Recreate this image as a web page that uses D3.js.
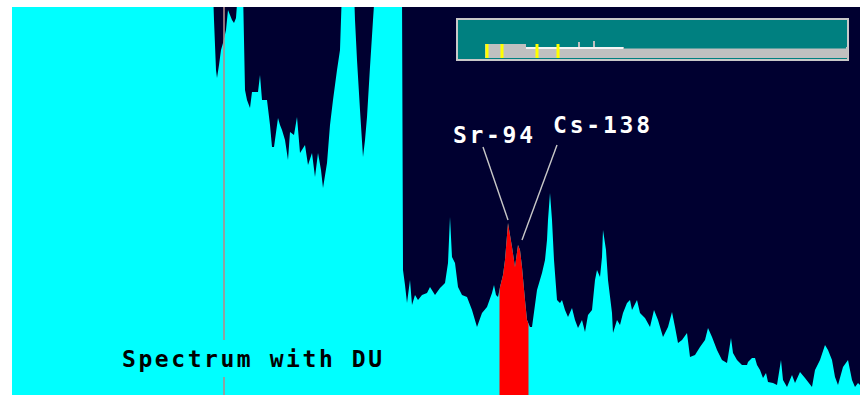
<!DOCTYPE html>
<html>
<head>
<meta charset="utf-8">
<script src="https://cdn.jsdelivr.net/npm/d3@7"></script>
<style>
  html, body { margin: 0; padding: 0; background: #fff; }
  svg { display: block; }
</style>
</head>
<body>
<svg id="chart" width="860" height="395"></svg>
<script>
// spectrum: channel -> counts (values above the top are clipped)
const channels = [0, 201, 202, 204, 205, 207, 209, 211, 214, 216, 218, 220, 222, 224, 226, 231, 232, 233, 235, 238,
  240, 246, 248, 250, 255, 258, 260, 262, 266, 268, 270, 273, 276, 278, 282, 285, 288, 293, 296, 300,
  303, 306, 309, 311, 315, 318, 321, 325, 328, 330, 342, 343, 345, 348, 351, 353, 355, 358, 361, 363,
  390, 391, 393, 395, 398, 400, 403, 406, 410, 415, 418, 423, 428, 433, 436, 438, 440, 443, 446, 450,
  455, 460, 465, 470, 475, 480, 482, 484, 486, 488, 491, 493, 496, 498, 500, 503, 506, 508, 510, 513,
  515, 518, 520, 525, 530, 533, 535, 536, 538, 540, 542, 545, 548, 550, 553, 556, 560, 563, 566, 570,
  573, 576, 580, 583, 585, 588, 590, 591, 594, 596, 600, 601, 605, 608, 611, 615, 618, 620, 625, 628,
  633, 638, 642, 646, 651, 656, 660, 663, 666, 670, 675, 678, 683, 688, 693, 696, 700, 705, 710, 715,
  716, 719, 721, 725, 730, 735, 736, 740, 743, 745, 748, 751, 754, 756, 761, 765, 769, 771, 775, 780,
  783, 788, 793, 800, 803, 808, 813, 816, 820, 823, 826, 831, 836, 840, 843, 846, 848];
const counts = [4050, 4050, 3750, 3250, 3170, 3300, 3450, 3520, 3650, 3850, 3800, 3750, 3720, 3770, 4050, 4050, 3550, 3050, 2950, 2870,
  3030, 3030, 3200, 2950, 2950, 2700, 2480, 2480, 2770, 2700, 2650, 2550, 2350, 2630, 2600, 2780, 2420, 2500, 2300, 2420,
  2180, 2420, 2250, 2070, 2320, 2700, 2950, 3250, 3450, 4050, 4050, 3750, 3350, 2850, 2380, 2550, 2780, 3280, 3750, 4050,
  4050, 1250, 1100, 920, 1150, 900, 1000, 950, 1000, 1020, 1080, 1000, 1070, 1120, 1320, 1780, 1380, 1320, 1080, 1000,
  980, 850, 680, 820, 880, 1020, 1100, 1000, 980, 1080, 1200, 1350, 1720, 1600, 1480, 1280, 1500, 1450, 1280, 950,
  750, 680, 680, 1050, 1220, 1350, 1550, 1750, 2020, 1750, 1350, 950, 920, 950, 850, 780, 870, 750, 670, 750,
  630, 800, 850, 1150, 1250, 1180, 1380, 1650, 1450, 1150, 820, 620, 750, 700, 820, 920, 950, 850, 950, 820,
  770, 680, 850, 750, 580, 680, 830, 680, 520, 550, 620, 380, 400, 480, 550, 670, 580, 450, 350, 320,
  380, 570, 420, 350, 300, 300, 330, 370, 370, 300, 250, 170, 220, 130, 120, 100, 350, 150, 80, 200,
  120, 230, 170, 80, 250, 350, 500, 450, 350, 180, 100, 280, 350, 150, 80, 120, 100];

const channelRange = [0, 848];
const countMax = 3880;

// region of interest (red) and cursor
const roi = [487.5, 516.5];
const cursorChannel = 212;

// peak labels
const peakNames = ["Sr-94", "Cs-138"];
const peakChannels = [496, 506];

const caption = "Spectrum with DU";

// overview strip at the top right: whole spectrum, compressed
const overviewChannels = [0, 27, 68, 120, 122, 135, 137, 166, 388, 390];
const overviewCounts = [0, 14, 11, 16, 11, 17, 11, 9.5, 11, 11];
const overviewMarkers = [29, 44, 79, 100];
const overviewWindow = [68, 165];

const svg = d3.select('#chart');
const plotL = 12, plotR = 860, plotT = 7, plotB = 395;

const x = d3.scaleLinear().domain(channelRange).range([plotL, plotR]);
const y = d3.scaleLinear().domain([0, countMax]).range([plotB, plotT]);

svg.append('defs').call(defs => {
  defs.append('clipPath').attr('id', 'plot')
    .append('rect')
    .attr('x', plotL).attr('y', plotT)
    .attr('width', plotR - plotL).attr('height', plotB - plotT);
  defs.append('clipPath').attr('id', 'roi')
    .append('rect')
    .attr('x', x(roi[0])).attr('y', plotT)
    .attr('width', x(roi[1]) - x(roi[0])).attr('height', plotB - plotT);
});

const points = channels.map((c, i) => [c, counts[i]]);
const area = d3.area()
  .x(d => x(d[0]))
  .y0(plotB)
  .y1(d => y(d[1]));

const plot = svg.append('g').attr('clip-path', 'url(#plot)');

plot.append('rect')
  .attr('x', plotL).attr('y', plotT)
  .attr('width', plotR - plotL).attr('height', plotB - plotT)
  .attr('fill', '#000030');

plot.append('path')
  .datum(points)
  .attr('d', area)
  .attr('fill', '#00ffff');

plot.append('g').attr('clip-path', 'url(#roi)')
  .append('path')
  .datum(points)
  .attr('d', area)
  .attr('fill', '#ff0000');

// cursor line, broken around the caption
const cx = x(cursorChannel);
[[plotT, 340], [377, plotB]].forEach(seg => {
  plot.append('line')
    .attr('x1', cx).attr('x2', cx)
    .attr('y1', seg[0]).attr('y2', seg[1])
    .attr('stroke', '#b08c8c')
    .attr('stroke-width', 1.6);
});

plot.append('text')
  .attr('x', 122).attr('y', 367)
  .attr('textLength', 260)
  .attr('lengthAdjust', 'spacing')
  .attr('font-family', 'DejaVu Sans Mono, monospace')
  .attr('font-weight', 'bold')
  .attr('font-size', 23)
  .attr('fill', '#000')
  .text(caption);

// peak labels with leader lines
const labelPos = [
  {tx: 453, ty: 143, len: 80, lx: 483, ly: 147, dx: 0, dy: -3},
  {tx: 553, ty: 133, len: 97, lx: 557, ly: 145, dx: 4, dy: -5}
];
peakNames.forEach((name, i) => {
  const p = labelPos[i];
  const yi = counts[channels.indexOf(peakChannels[i])];
  plot.append('line')
    .attr('x1', p.lx).attr('y1', p.ly)
    .attr('x2', x(peakChannels[i]) + p.dx).attr('y2', y(yi) + p.dy)
    .attr('stroke', '#c8c8c8')
    .attr('stroke-width', 1.4);
  plot.append('text')
    .attr('x', p.tx).attr('y', p.ty)
    .attr('textLength', p.len)
    .attr('lengthAdjust', 'spacing')
    .attr('font-family', 'DejaVu Sans Mono, monospace')
    .attr('font-weight', 'bold')
    .attr('font-size', 23)
    .attr('fill', '#fff')
    .text(name);
});

// overview strip
const ov = svg.append('g');
const ox = d3.scaleLinear().domain([0, 390]).range([458, 848]);
const oy = d3.scaleLinear().domain([0, 37]).range([58, 21]);

ov.append('rect')
  .attr('x', 457).attr('y', 19)
  .attr('width', 391).attr('height', 41)
  .attr('fill', '#008080')
  .attr('stroke', '#c8c8c8')
  .attr('stroke-width', 2);

ov.append('path')
  .datum(overviewChannels.map((c, i) => [c, overviewCounts[i]]))
  .attr('d', d3.area().curve(d3.curveStepAfter)
    .x(d => ox(d[0])).y0(oy(0)).y1(d => oy(d[1])))
  .attr('fill', '#c0c0c0');

ov.append('rect')
  .attr('x', ox(overviewWindow[0])).attr('y', oy(11))
  .attr('width', ox(overviewWindow[1]) - ox(overviewWindow[0])).attr('height', 2)
  .attr('fill', '#f4f4f4');

ov.selectAll('rect.marker')
  .data(overviewMarkers)
  .enter()
  .append('rect')
  .attr('class', 'marker')
  .attr('x', d => ox(d) - 1.5)
  .attr('y', oy(14))
  .attr('width', 3)
  .attr('height', oy(0) - oy(14))
  .attr('fill', '#ffff00');
</script>
</body>
</html>
